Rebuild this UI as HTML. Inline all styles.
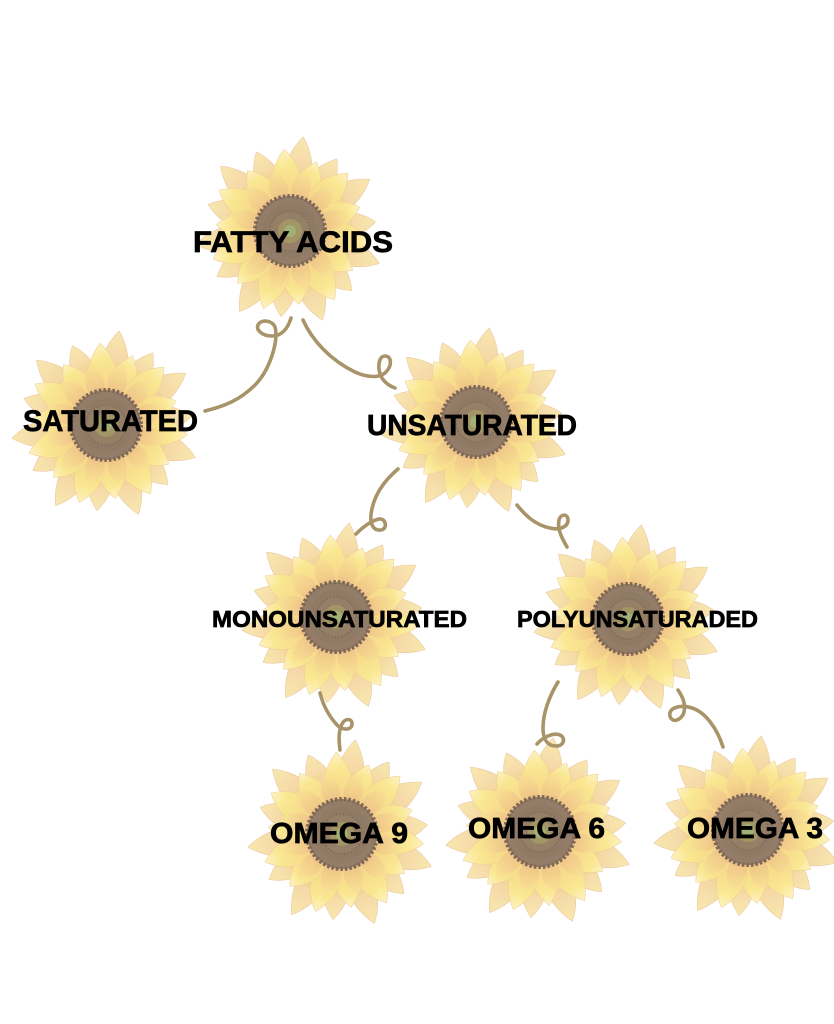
<!DOCTYPE html>
<html>
<head>
<meta charset="utf-8">
<style>
html,body{margin:0;padding:0;background:#ffffff;}
body{width:834px;height:1024px;overflow:hidden;}
svg{display:block;}
text{font-family:"Liberation Sans","DejaVu Sans",sans-serif;font-weight:bold;fill:#000;stroke:#000;stroke-width:0.7;}
</style>
</head>
<body>
<svg width="834" height="1024" viewBox="0 0 834 1024" xmlns="http://www.w3.org/2000/svg" xmlns:xlink="http://www.w3.org/1999/xlink">
<defs>
  <linearGradient id="gBack" x1="0" y1="1" x2="0" y2="0">
    <stop offset="0" stop-color="#e9b287"/>
    <stop offset="0.45" stop-color="#f3cf9a"/>
    <stop offset="1" stop-color="#f9e6a8"/>
  </linearGradient>
  <linearGradient id="gFront" x1="0" y1="1" x2="0" y2="0">
    <stop offset="0" stop-color="#eebf86"/>
    <stop offset="0.35" stop-color="#f7db8a"/>
    <stop offset="0.75" stop-color="#fbe992"/>
    <stop offset="1" stop-color="#fdf2c0"/>
  </linearGradient>
  <linearGradient id="gInner" x1="0" y1="1" x2="0" y2="0">
    <stop offset="0" stop-color="#eab684"/>
    <stop offset="1" stop-color="#f9e394"/>
  </linearGradient>
  <path id="pa" d="M0,-22 C20,-38 18,-72 0,-95 C-18,-72 -20,-38 0,-22Z" fill="url(#gBack)" stroke="#e9c198" stroke-width="0.6" opacity="0.9"/>
  <path id="pa2" d="M0,-22 C19,-38 17,-66 0,-86 C-17,-66 -19,-38 0,-22Z" fill="url(#gBack)" stroke="#e9c198" stroke-width="0.6" opacity="0.9"/>
  <path id="pb" d="M0,-22 C20,-36 18,-62 0,-82 C-18,-62 -20,-36 0,-22Z" fill="url(#gFront)" stroke="#efcf98" stroke-width="0.6" opacity="0.95"/>
  <path id="pb2" d="M0,-22 C19,-34 17,-56 0,-74 C-17,-56 -19,-34 0,-22Z" fill="url(#gFront)" stroke="#efcf98" stroke-width="0.6" opacity="0.95"/>
  <path id="pc" d="M0,-26 C13,-35 12,-52 0,-62 C-12,-52 -13,-35 0,-26Z" fill="url(#gInner)" opacity="0.8"/>
  <g id="fl">
    <circle r="64" fill="#f9e4a2"/>
    <use xlink:href="#pa" transform="rotate(8)"/>
    <use xlink:href="#pa2" transform="rotate(33)"/>
    <use xlink:href="#pa" transform="rotate(57)"/>
    <use xlink:href="#pa2" transform="rotate(84)"/>
    <use xlink:href="#pa" transform="rotate(110)"/>
    <use xlink:href="#pa2" transform="rotate(134)"/>
    <use xlink:href="#pa" transform="rotate(160)"/>
    <use xlink:href="#pa2" transform="rotate(186)"/>
    <use xlink:href="#pa" transform="rotate(212)"/>
    <use xlink:href="#pa2" transform="rotate(238)"/>
    <use xlink:href="#pa" transform="rotate(262)"/>
    <use xlink:href="#pa2" transform="rotate(288)"/>
    <use xlink:href="#pa" transform="rotate(313)"/>
    <use xlink:href="#pa2" transform="rotate(337)"/>
    <use xlink:href="#pb" transform="rotate(-4)"/>
    <use xlink:href="#pb2" transform="rotate(21)"/>
    <use xlink:href="#pb" transform="rotate(45)"/>
    <use xlink:href="#pb2" transform="rotate(71)"/>
    <use xlink:href="#pb" transform="rotate(97)"/>
    <use xlink:href="#pb2" transform="rotate(122)"/>
    <use xlink:href="#pb" transform="rotate(147)"/>
    <use xlink:href="#pb2" transform="rotate(173)"/>
    <use xlink:href="#pb" transform="rotate(199)"/>
    <use xlink:href="#pb2" transform="rotate(225)"/>
    <use xlink:href="#pb" transform="rotate(250)"/>
    <use xlink:href="#pb2" transform="rotate(275)"/>
    <use xlink:href="#pb" transform="rotate(300)"/>
    <use xlink:href="#pb2" transform="rotate(325)"/>
    <use xlink:href="#pc" transform="rotate(15)"/>
    <use xlink:href="#pc" transform="rotate(45)"/>
    <use xlink:href="#pc" transform="rotate(75)"/>
    <use xlink:href="#pc" transform="rotate(105)"/>
    <use xlink:href="#pc" transform="rotate(135)"/>
    <use xlink:href="#pc" transform="rotate(165)"/>
    <use xlink:href="#pc" transform="rotate(195)"/>
    <use xlink:href="#pc" transform="rotate(225)"/>
    <use xlink:href="#pc" transform="rotate(255)"/>
    <use xlink:href="#pc" transform="rotate(285)"/>
    <use xlink:href="#pc" transform="rotate(315)"/>
    <use xlink:href="#pc" transform="rotate(345)"/>
    <circle r="35" fill="#937c68"/>
    <circle r="35" fill="none" stroke="#7f6755" stroke-width="4" stroke-dasharray="2.5 2"/>
    <circle r="27" fill="#8f7a66"/>
    <circle r="20" fill="#957f66" stroke="#836d5a" stroke-width="2" stroke-dasharray="1.5 2"/>
    <circle r="12" fill="#a39666"/>
    <circle r="6" fill="#9fb67a" opacity="0.8"/>
  </g>
</defs>

<!-- flowers -->
<use xlink:href="#fl" transform="translate(290,231)"/>
<use xlink:href="#fl" transform="translate(106,425)"/>
<use xlink:href="#fl" transform="translate(476,422)"/>
<use xlink:href="#fl" transform="translate(336,617)"/>
<use xlink:href="#fl" transform="translate(628,619)"/>
<use xlink:href="#fl" transform="translate(342,834)"/>
<use xlink:href="#fl" transform="translate(540,832)"/>
<use xlink:href="#fl" transform="translate(748,830)"/>

<!-- connectors -->
<g fill="none" stroke="#a89468" stroke-width="3.6" stroke-linecap="round" stroke-linejoin="round">
  <path d="M291,318 C288,328 282,336 272,336 C262,336 256,330 258,325 C261,319 272,320 275,327 C279,340 270,370 255,385 C240,400 225,406 205,411"/>
  <path d="M303,320 C312,340 330,360 355,372 C368,378 380,378 386,372 C392,366 392,356 385,356 C378,356 377,370 382,378 C386,384 390,386 395,388"/>
  <path d="M398,469 C385,480 373,495 371,515 C370,525 374,531 381,530 C388,529 386,518 379,519 C370,521 362,528 356,534"/>
  <path d="M517,505 C525,515 535,525 550,528 C558,530 568,528 568,520 C568,514 561,513 559,520 C557,530 563,540 567,547"/>
  <path d="M320,693 C323,705 328,715 337,725 C343,731 352,730 352,724 C352,718 345,718 342,724 C338,732 339,742 340,750"/>
  <path d="M558,682 C550,695 543,712 543,728 C543,740 548,746 556,746 C564,746 566,738 560,735 C553,732 542,738 537,744"/>
  <path d="M678,690 C682,696 686,703 684,712 C682,720 672,724 670,716 C668,708 680,704 692,708 C705,712 717,728 723,747"/>
</g>

<!-- labels -->
<text x="193" y="252" font-size="30" textLength="200" lengthAdjust="spacingAndGlyphs">FATTY ACIDS</text>
<text x="23" y="431" font-size="30" textLength="175" lengthAdjust="spacingAndGlyphs">SATURATED</text>
<text x="367" y="435" font-size="29" textLength="210" lengthAdjust="spacingAndGlyphs">UNSATURATED</text>
<text x="212" y="627" font-size="23" textLength="255" lengthAdjust="spacingAndGlyphs">MONOUNSATURATED</text>
<text x="517" y="627" font-size="23" textLength="241" lengthAdjust="spacingAndGlyphs">POLYUNSATURADED</text>
<text x="270" y="843" font-size="29" textLength="138" lengthAdjust="spacingAndGlyphs">OMEGA 9</text>
<text x="468" y="838" font-size="29" textLength="137" lengthAdjust="spacingAndGlyphs">OMEGA 6</text>
<text x="687" y="838" font-size="29" textLength="136" lengthAdjust="spacingAndGlyphs">OMEGA 3</text>
</svg>
</body>
</html>
